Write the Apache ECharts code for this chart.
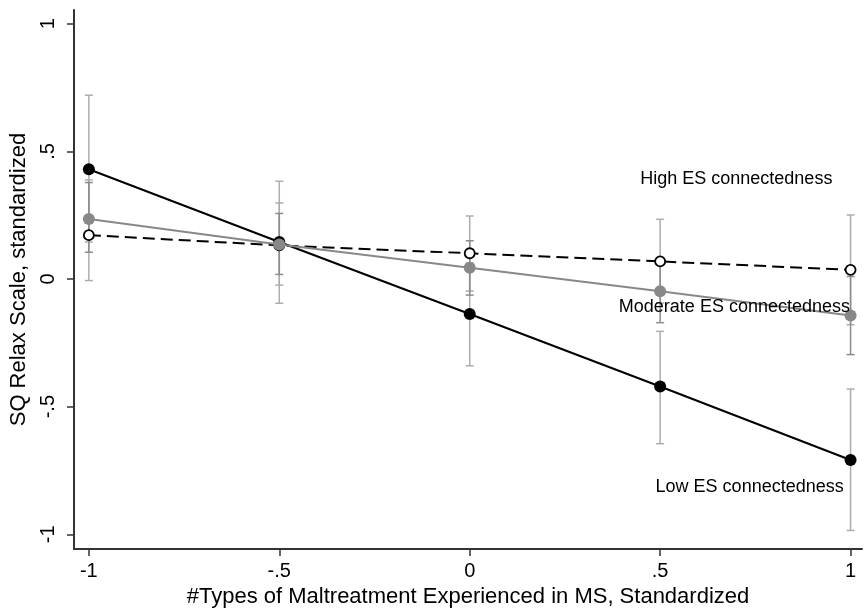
<!DOCTYPE html>
<html>
<head>
<meta charset="utf-8">
<script src="https://cdn.jsdelivr.net/npm/echarts@6/dist/echarts.min.js"></script>
<style>
html,body{margin:0;padding:0;background:#fff}
#main{width:867px;height:613px}
</style>
</head>
<body>
<div id="main"></div>
<script>
// x categories (standardized maltreatment count)
var xValues = [-1, -0.5, 0, 0.5, 1];

// predicted values
var lowMean  = [0.43, 0.145, -0.137, -0.421, -0.709];
var lowHi    = [0.72, 0.383, 0.063, -0.205, -0.431];
var lowLo    = [0.145, -0.095, -0.340, -0.645, -0.985];

var modMean  = [0.235, 0.135, 0.044, -0.048, -0.143];
var modHi    = [0.378, 0.257, 0.150, 0.075, 0.010];
var modLo    = [0.105, 0.018, -0.063, -0.171, -0.296];

var highMean = [0.172, 0.132, 0.101, 0.069, 0.036];
var highHi   = [0.388, 0.298, 0.247, 0.234, 0.251];
var highLo   = [-0.006, -0.024, -0.047, -0.094, -0.179];

var xTicks = [-1, -0.5, 0, 0.5, 1];
var yTicks = [-1, -0.5, 0, 0.5, 1];

function tickText(v) {
    if (v === 0) return '0';
    if (v === 1) return '1';
    if (v === -1) return '-1';
    return (v < 0 ? '-' : '') + '.5';
}

function pairs(ys) {
    var out = [];
    for (var i = 0; i < xValues.length; i++) out.push([xValues[i], ys[i]]);
    return out;
}
function ciData(lo, hi) {
    var out = [];
    for (var i = 0; i < xValues.length; i++) out.push([xValues[i], lo[i], hi[i]]);
    return out;
}

function ciSeries(lo, hi, color) {
    return {
        type: 'custom',
        data: ciData(lo, hi),
        silent: true,
        z: 1,
        renderItem: function (params, api) {
            var top = api.coord([api.value(0), api.value(2)]);
            var bot = api.coord([api.value(0), api.value(1)]);
            var w = 4;
            var st = {stroke: color, lineWidth: 1.5};
            return {
                type: 'group',
                children: [
                    {type: 'line', shape: {x1: top[0], y1: top[1], x2: bot[0], y2: bot[1]}, style: st},
                    {type: 'line', shape: {x1: top[0] - w, y1: top[1], x2: top[0] + w, y2: top[1]}, style: st},
                    {type: 'line', shape: {x1: bot[0] - w, y1: bot[1], x2: bot[0] + w, y2: bot[1]}, style: st}
                ]
            };
        }
    };
}

var myChart = echarts.init(document.getElementById('main'));
var font = 'Liberation Sans, Arial, sans-serif';

var option = {
    backgroundColor: '#fff',
    animation: false,
    grid: {left: 74, right: 5, top: 10, bottom: 58},
    xAxis: {
        type: 'value',
        min: -1.039,
        max: 1.03,
        name: '#Types of Maltreatment Experienced in MS, Standardized',
        nameLocation: 'middle',
        nameGap: 34,
        nameTextStyle: {color: '#000', fontSize: 22, fontFamily: font},
        axisLine: {show: true, onZero: false, lineStyle: {color: '#333', width: 2}},
        axisTick: {show: true, inside: false, length: 7, customValues: xTicks, lineStyle: {color: '#333', width: 1.5}},
        axisLabel: {customValues: xTicks, color: '#000', fontSize: 20, fontFamily: font, margin: 12, formatter: tickText},
        splitLine: {show: false}
    },
    yAxis: {
        type: 'value',
        min: -1.058,
        max: 1.054,
        name: 'SQ Relax Scale, standardized',
        nameLocation: 'middle',
        nameGap: 42,
        nameRotate: 90,
        nameTextStyle: {color: '#000', fontSize: 22, fontFamily: font},
        axisLine: {show: true, onZero: false, lineStyle: {color: '#333', width: 2}},
        axisTick: {show: true, inside: false, length: 7, customValues: yTicks, lineStyle: {color: '#333', width: 1.5}},
        axisLabel: {customValues: yTicks, rotate: 90, color: '#000', fontSize: 20, fontFamily: font, margin: 16, formatter: tickText},
        splitLine: {show: false}
    },
    series: [
        ciSeries(highLo, highHi, '#adadad'),
        ciSeries(lowLo, lowHi, '#adadad'),
        ciSeries(modLo, modHi, '#8c8c8c'),
        {
            name: 'Low ES connectedness',
            type: 'line',
            data: pairs(lowMean),
            z: 3,
            symbol: 'circle',
            symbolSize: 12,
            lineStyle: {color: '#000', width: 2},
            itemStyle: {color: '#000'}
        },
        {
            name: 'High ES connectedness',
            type: 'line',
            data: pairs(highMean),
            z: 4,
            symbol: 'circle',
            symbolSize: 10,
            lineStyle: {color: '#000', width: 2, type: [12, 6]},
            itemStyle: {color: '#fff', borderColor: '#000', borderWidth: 1.8}
        },
        {
            name: 'Moderate ES connectedness',
            type: 'line',
            data: pairs(modMean),
            z: 5,
            symbol: 'circle',
            symbolSize: 12,
            lineStyle: {color: '#888', width: 2},
            itemStyle: {color: '#888'}
        }
    ]
};
myChart.setOption(option);

// text labels placed in data space
var notes = [
    {text: 'High ES connectedness', at: [0.70, 0.39]},
    {text: 'Moderate ES connectedness', at: [0.695, -0.108]},
    {text: 'Low ES connectedness', at: [0.735, -0.815]}
];
var g = [];
notes.forEach(function (n) {
    var p = myChart.convertToPixel({gridIndex: 0}, n.at);
    g.push({
        type: 'text', x: p[0], y: p[1], z: 10,
        style: {text: n.text, fill: '#000', font: '18px ' + font, align: 'center', verticalAlign: 'middle'}
    });
});
myChart.setOption({graphic: g});
</script>
</body>
</html>
